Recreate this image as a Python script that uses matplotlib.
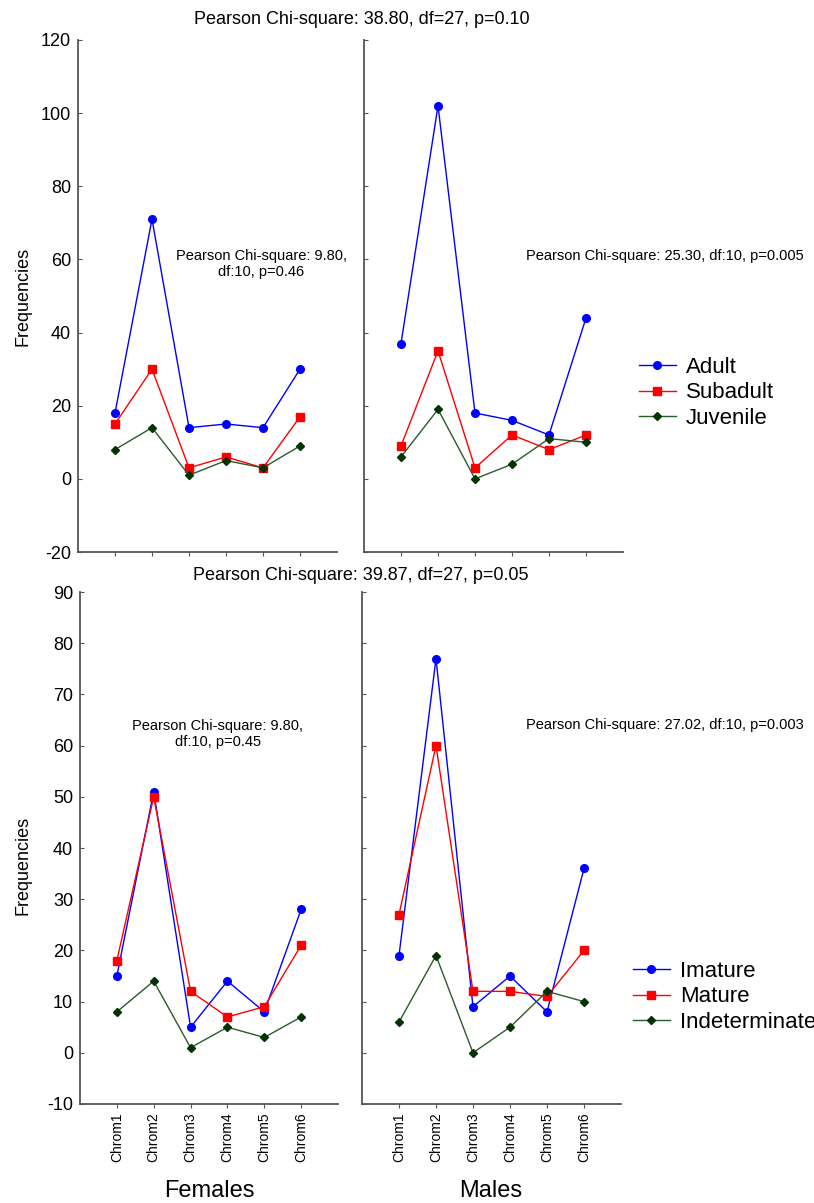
import matplotlib
matplotlib.use("Agg")
import matplotlib.pyplot as plt

plt.rcParams['font.family'] = ['Liberation Sans', 'DejaVu Sans']
plt.rcParams['axes.unicode_minus'] = False

categories = ["Chrom1", "Chrom2", "Chrom3", "Chrom4", "Chrom5", "Chrom6"]

# Top: age classes
fem_adult = [18, 71, 14, 15, 14, 30]
fem_subadult = [15, 30, 3, 6, 3, 17]
fem_juvenile = [8, 14, 1, 5, 3, 9]
male_adult = [37, 102, 18, 16, 12, 44]
male_subadult = [9, 35, 3, 12, 8, 12]
male_juvenile = [6, 19, 0, 4, 11, 10]

# Bottom: maturity
fem_imature = [15, 51, 5, 14, 8, 28]
fem_mature = [18, 50, 12, 7, 9, 21]
fem_indet = [8, 14, 1, 5, 3, 7]
male_imature = [19, 77, 9, 15, 8, 36]
male_mature = [27, 60, 12, 12, 11, 20]
male_indet = [6, 19, 0, 5, 12, 10]

top_labels = ["Adult", "Subadult", "Juvenile"]
bottom_labels = ["Imature", "Mature", "Indeterminate"]
panel_labels = ["Females", "Males"]
top_title = "Pearson Chi-square: 38.80, df=27, p=0.10"
bottom_title = "Pearson Chi-square: 39.87, df=27, p=0.05"
notes = ["Pearson Chi-square: 9.80,\ndf:10, p=0.46",
         "Pearson Chi-square: 25.30, df:10, p=0.005",
         "Pearson Chi-square: 9.80,\ndf:10, p=0.45",
         "Pearson Chi-square: 27.02, df:10, p=0.003"]

W, H = 814, 1203
fig = plt.figure(figsize=(W / 100, H / 100), dpi=100)


def rect(x0, x1, y0, y1):
    return [x0 / W, 1 - y1 / H, (x1 - x0) / W, (y1 - y0) / H]


def fx(x):
    return x / W


def fy(y):
    return 1 - y / H


styles = [
    dict(color="#0000ff", marker="o", markersize=5.5, mfc="#0000ff", mec="#0000ff"),
    dict(color="#ff0000", marker="s", markersize=5.5, mfc="#ff0000", mec="#ff0000"),
    dict(color="#2b5a2b", marker="D", markersize=4.5, mfc="#003300", mec="#003300"),
]

x = list(range(1, len(categories) + 1))
spine_c = "#555555"


def setup(ax, ylim, yticks, show_ylabels, show_xlabels):
    ax.set_xlim(0, 7)
    ax.set_ylim(*ylim)
    ax.set_yticks(yticks)
    ax.set_xticks(x)
    for s in ["top", "right"]:
        ax.spines[s].set_visible(False)
    for s in ["left", "bottom"]:
        ax.spines[s].set_color(spine_c)
        ax.spines[s].set_linewidth(1.3)
    ax.tick_params(axis="y", direction="in", length=3, color=spine_c, labelsize=13, pad=5)
    ax.tick_params(axis="x", direction="out", length=3, color=spine_c, labelsize=10, pad=3)
    if not show_ylabels:
        ax.set_yticklabels([])
    if show_xlabels:
        ax.set_xticklabels(categories, rotation=90)
    else:
        ax.set_xticklabels([])


def draw(ax, series):
    handles = []
    for s, st in zip(series, styles):
        h, = ax.plot(x, s, linewidth=1.0, **st)
        handles.append(h)
    return handles


ax1 = fig.add_axes(rect(78, 337, 40, 552))
ax2 = fig.add_axes(rect(364, 623, 40, 552))
ax3 = fig.add_axes(rect(80, 338, 592, 1104))
ax4 = fig.add_axes(rect(362, 621, 592, 1104))

draw(ax1, [fem_adult, fem_subadult, fem_juvenile])
htop = draw(ax2, [male_adult, male_subadult, male_juvenile])
draw(ax3, [fem_imature, fem_mature, fem_indet])
hbot = draw(ax4, [male_imature, male_mature, male_indet])

setup(ax1, (-20, 120), range(-20, 121, 20), True, False)
setup(ax2, (-20, 120), range(-20, 121, 20), False, False)
setup(ax3, (-10, 90), range(-10, 91, 10), True, True)
setup(ax4, (-10, 90), range(-10, 91, 10), False, True)

# titles
fig.text(fx(362), fy(19), top_title, ha="center", va="center", fontsize=13)
fig.text(fx(361), fy(575), bottom_title, ha="center", va="center", fontsize=13)

# annotations
fig.text(fx(261), fy(264), notes[0], ha="center", va="center", fontsize=10.5, multialignment="center")
fig.text(fx(665), fy(256), notes[1], ha="center", va="center", fontsize=10.5)
fig.text(fx(218), fy(734), notes[2], ha="center", va="center", fontsize=10.5, multialignment="center")
fig.text(fx(665), fy(725), notes[3], ha="center", va="center", fontsize=10.5)

# y labels
fig.text(fx(23), fy(296), "Frequencies", rotation=90, ha="center", va="center", fontsize=13)
fig.text(fx(23), fy(865), "Frequencies", rotation=90, ha="center", va="center", fontsize=13)

# x panel labels
fig.text(fx(209), fy(1191), panel_labels[0], ha="center", va="center", fontsize=17)
fig.text(fx(491), fy(1191), panel_labels[1], ha="center", va="center", fontsize=17)

# legends
leg_kw = dict(frameon=False, fontsize=16, handlelength=1.65, handletextpad=0.45,
              labelspacing=0.2, borderaxespad=0, borderpad=0, loc="center left")
fig.legend(htop, top_labels, bbox_to_anchor=(fx(639), fy(393)), **leg_kw)
fig.legend(hbot, bottom_labels, bbox_to_anchor=(fx(633), fy(997)), **leg_kw)

fig.savefig("out.png", dpi=100)
